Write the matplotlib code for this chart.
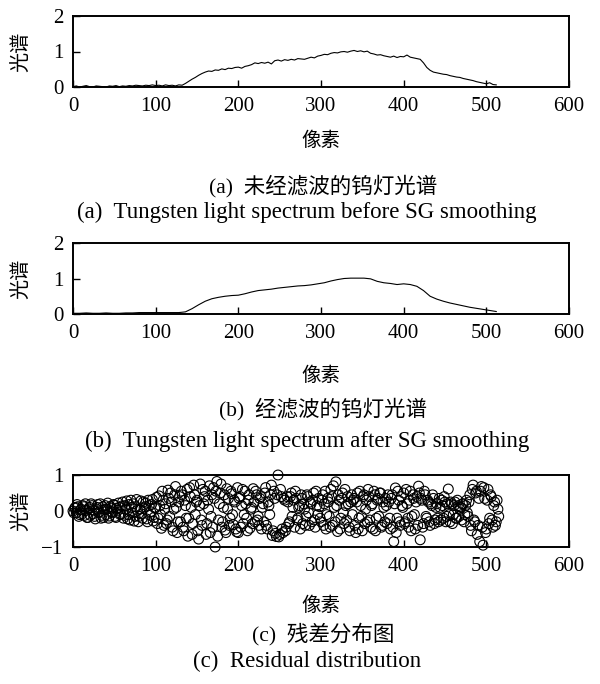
import numpy as np
import matplotlib.pyplot as plt

plt.rcParams['font.family'] = ['Liberation Serif', 'Noto Sans CJK SC']

# raw tungsten spectrum, every 4 pixels from 0 to 512
raw_x = np.arange(0, 516, 4)
raw_y = [0.01, 0.03, 0.00, 0.02, 0.04, 0.01, 0.00, 0.03, 0.02, 0.01,
         0.00, 0.03, 0.02, 0.04, 0.01, 0.03, 0.02, 0.04, 0.03, 0.05,
         0.04, 0.03, 0.05, 0.04, 0.06, 0.04, 0.05, 0.03, 0.06, 0.04,
         0.05, 0.03, 0.06,
         0.05, 0.10, 0.16, 0.22, 0.27, 0.33, 0.38, 0.42, 0.45, 0.44,
         0.48, 0.47, 0.51, 0.49, 0.53, 0.52, 0.55,
         0.56, 0.53, 0.58, 0.60, 0.63, 0.68, 0.66, 0.69, 0.67, 0.70,
         0.65, 0.74, 0.76, 0.73, 0.77, 0.75,
         0.78, 0.76, 0.80, 0.79, 0.78, 0.81, 0.84, 0.82, 0.87, 0.89,
         0.92, 0.91, 0.95, 0.97, 0.96, 0.99,
         1.00, 0.98, 1.01, 1.03, 1.00, 1.02, 0.99, 1.01, 0.95, 0.93,
         0.90, 0.91, 0.88, 0.86, 0.84, 0.87,
         0.83, 0.86, 0.85, 0.90, 0.84, 0.82, 0.80, 0.78, 0.68, 0.55,
         0.47, 0.42, 0.40, 0.38, 0.36,
         0.35, 0.32, 0.30, 0.28, 0.27, 0.24, 0.22, 0.20, 0.18, 0.15,
         0.13, 0.11, 0.09, 0.12, 0.07, 0.06]

# SG smoothed spectrum, every 8 pixels
sg_x = np.arange(0, 520, 8)
sg_y = [0.02, 0.02, 0.03, 0.02, 0.02, 0.03, 0.02, 0.02, 0.03, 0.03,
        0.04, 0.04, 0.04, 0.04, 0.04, 0.04, 0.04, 0.06, 0.15, 0.26,
        0.36, 0.43, 0.47, 0.50, 0.52, 0.53, 0.57, 0.62, 0.66, 0.68,
        0.70, 0.73, 0.75, 0.77, 0.79, 0.80, 0.82, 0.85, 0.88, 0.93,
        0.97, 1.00, 1.01, 1.01, 1.01, 0.99, 0.92, 0.88, 0.86, 0.83,
        0.85, 0.83, 0.78, 0.66, 0.50, 0.42, 0.36, 0.31, 0.27, 0.23,
        0.19, 0.16, 0.13, 0.10, 0.07]

# residuals at even pixels
res_x_even = np.arange(0, 516, 2)
res_y_even = [0.00, 0.08, -0.05, 0.12, -0.10, 0.05, 0.15, -0.12, 0.02, -0.18,
              0.10, 0.20, -0.08, -0.15, 0.06, 0.18, -0.02, -0.20, 0.12, 0.04,
              -0.10, 0.22, -0.14, 0.08, -0.05, 0.16, -0.18, 0.02, 0.10, -0.08,
              0.25, -0.12, 0.05, -0.22, 0.18, 0.30, -0.05, -0.28, 0.12, 0.02,
              -0.15, 0.28, -0.20, 0.08, 0.22, -0.30, 0.15, -0.02, 0.32, -0.18,
              0.10, -0.35, 0.42, -0.10, 0.55, -0.40, 0.20, -0.25, 0.35, 0.50,
              -0.45, 0.05, 0.68, -0.60, 0.25,
              -0.30, 0.45, -0.55, 0.15, 0.60, -0.20, 0.40, -0.65, 0.72, -0.10,
              0.30, -0.78, 0.75, -0.40, 0.20, 0.55, -0.35, 0.05, -0.60, 0.45,
              0.65, -1.00, 0.82, -0.25, 0.50, -0.45, 0.10, -0.53, 0.62, 0.35,
              -0.20, 0.48, -0.38, 0.25, -0.58,
              -0.60, 0.40, 0.15, -0.35, 0.55, -0.20, 0.30, -0.48, 0.10, 0.62,
              -0.30, 0.45, -0.15, 0.35, -0.50, 0.20, 0.50, -0.40, 0.25, -0.10,
              0.72, -0.55, 0.35, -0.71, 1.00, -0.65, 0.40, -0.60, 0.30, -0.45,
              0.25, -0.30, 0.50, 0.10, -0.45, 0.35, -0.20, 0.15, 0.45, -0.35,
              0.05, -0.15, 0.40, -0.40, 0.20, 0.30, -0.25, 0.55, -0.10, 0.12,
              -0.30, 0.45, 0.20, -0.50, 0.35, -0.15, 0.60, -0.40, 0.10, 0.81,
              -0.57, 0.30, -0.20, 0.50, -0.35, 0.15, 0.40, -0.45, 0.25, -0.10,
              0.35, -0.60, 0.50, -0.20, 0.15, -0.55, 0.45, 0.05, -0.30, 0.40,
              -0.45, 0.20, 0.55, -0.55, 0.30, -0.15, 0.50, -0.40, 0.10, 0.35,
              -0.35, 0.25, -0.50, 0.45, -0.85, 0.64, -0.20, 0.30, -0.40, 0.15,
              0.50, -0.30, 0.20, -0.45, 0.55, -0.15, 0.35, -0.50, 0.40, 0.69,
              -0.80, 0.30, -0.35, 0.45, -0.20, 0.25, -0.40, 0.15, 0.35, -0.25,
              0.20, -0.30, 0.10, 0.30, -0.20, 0.25, -0.15, 0.61, -0.30, 0.20,
              -0.10, 0.25, -0.20, 0.15, 0.05, -0.25, 0.20, -0.10, 0.30, -0.15,
              0.45, -0.55, 0.72, -0.30, 0.55, -0.40, -0.85, 0.68, -0.95, 0.35,
              -0.50, 0.60, -0.20, 0.40, -0.45, 0.25, -0.30, 0.05]

# residuals at odd pixels
res_x_odd = np.arange(1, 517, 2)
res_y_odd = [-0.05, 0.10, 0.18, -0.15, 0.03, -0.08, 0.12, 0.20, -0.18, 0.06,
             -0.12, 0.15, 0.02, -0.22, 0.10, -0.05, 0.20, -0.12, -0.18, 0.15,
             0.05, -0.20, 0.12, -0.02, 0.18, -0.15, 0.08, 0.22, -0.10, 0.14,
             -0.20, 0.15, 0.28, -0.10, -0.25, 0.10, 0.20, -0.15, 0.32, -0.30,
             0.05, -0.08, 0.25, 0.12, -0.22, 0.30, -0.12, 0.18, -0.28, 0.08,
             0.38, -0.20, 0.15, -0.48, 0.30, 0.05, -0.35, 0.58, -0.15, 0.25,
             -0.55, 0.45, 0.10, -0.30, 0.40,
             0.55, -0.45, 0.30, -0.20, -0.70, 0.65, 0.10, -0.35, 0.45, 0.25,
             -0.55, 0.15, -0.25, 0.60, 0.40, -0.65, 0.30, 0.70, -0.15, -0.45,
             0.35, 0.55, -0.70, 0.20, 0.75, -0.30, 0.45, -0.60, 0.05, -0.40,
             0.55, -0.10, 0.30, -0.50, 0.65,
             0.35, -0.45, 0.60, -0.10, 0.20, -0.55, 0.45, 0.05, -0.35, 0.25,
             0.55, -0.25, -0.40, 0.40, 0.10, -0.30, 0.65, -0.50, 0.15, 0.45,
             -0.68, 0.55, -0.62, 0.45, -0.72, 0.60, -0.50, 0.35, -0.55, 0.40,
             -0.35, 0.40, -0.15, 0.30, 0.55, -0.25, 0.10, -0.50, 0.35, 0.20,
             -0.40, 0.45, -0.05, 0.25, -0.30, 0.50, -0.45, 0.15, 0.35, -0.20,
             0.30, -0.40, 0.55, -0.10, 0.25, -0.45, 0.40, 0.70, -0.30, 0.15,
             0.45, -0.50, 0.35, -0.05, 0.60, -0.25, 0.20, -0.55, 0.45, 0.30,
             -0.40, 0.25, -0.50, 0.55, -0.15, 0.40, -0.35, 0.30, 0.60, -0.25,
             0.15, -0.50, 0.45, -0.20, 0.35, 0.50, -0.45, 0.25, -0.30, 0.15,
             0.45, -0.20, 0.35, -0.45, 0.20, -0.60, 0.55, -0.30, 0.40, 0.10,
             -0.35, 0.60, -0.20, 0.30, -0.55, 0.45, -0.10, 0.25, -0.40, 0.50,
             0.35, -0.45, 0.55, -0.15, 0.30, -0.30, 0.20, 0.45, -0.35, 0.10,
             -0.20, 0.35, -0.25, 0.15, 0.40, -0.30, 0.20, -0.10, 0.25, -0.35,
             0.15, -0.20, 0.30, -0.15, 0.10, 0.20, -0.30, 0.15, -0.05, 0.25,
             -0.40, 0.60, -0.25, 0.50, -0.65, 0.35, 0.55, -0.45, 0.65, -0.60,
             0.30, -0.35, 0.45, -0.25, 0.15, -0.40, 0.30, -0.15]

xticks = [0, 100, 200, 300, 400, 500, 600]
captions = [("(a)  未经滤波的钨灯光谱", "(a)  Tungsten light spectrum before SG smoothing"),
            ("(b)  经滤波的钨灯光谱", "(b)  Tungsten light spectrum after SG smoothing"),
            ("(c)  残差分布图", "(c)  Residual distribution")]

fig = plt.figure(figsize=(6, 6.84), dpi=100)
W, H = 600, 684


def make_axes(top, bottom, xlab_center):
    hpx = bottom - top
    ax = fig.add_axes([73 / W, 1 - bottom / H, (569 - 73) / W, hpx / H])
    ax.set_xlim(0, 600)
    ax.set_xticks(xticks)
    ax.tick_params(direction='in', length=5, width=1, labelsize=15, pad=7,
                   top=False, right=False)
    for s in ax.spines.values():
        s.set_linewidth(1.4)
    ax.set_xlabel('像素', fontsize=14, va='center')
    ax.xaxis.set_label_coords(0.5, -(xlab_center - bottom) / hpx)
    ax.set_ylabel('光谱', fontsize=14.5, va='center')
    ax.yaxis.set_label_coords(-(73 - 22) / 496, 0.5)
    return ax


ax1 = make_axes(16, 87, 141)
ax1.plot(raw_x, raw_y, color='black', lw=0.8)
ax1.set_ylim(0, 2)
ax1.set_yticks([0, 1, 2])

ax2 = make_axes(243, 314, 376)
ax2.plot(sg_x, sg_y, color='black', lw=0.8)
ax2.set_ylim(0, 2)
ax2.set_yticks([0, 1, 2])

ax3 = make_axes(475, 547, 606)
ax3.scatter(res_x_even, res_y_even, s=50, facecolors='none', edgecolors='black',
            linewidths=0.8, clip_on=False, zorder=3)
ax3.scatter(res_x_odd, res_y_odd, s=50, facecolors='none', edgecolors='black',
            linewidths=0.8, clip_on=False, zorder=3)
ax3.set_ylim(-1, 1)
ax3.set_yticks([-1, 0, 1])
ax3.set_yticklabels(['\u22121', '0', '1'])

cap_y = [(186, 212), (409, 441), (634, 661)]
for (cn, en), (y1, y2) in zip(captions, cap_y):
    fig.text(323 / W, 1 - y1 / H, cn, ha='center', va='center', fontsize=15.5)
    fig.text(307 / W, 1 - y2 / H, en, ha='center', va='center', fontsize=16.5)

fig.savefig('out.png', dpi=100)
